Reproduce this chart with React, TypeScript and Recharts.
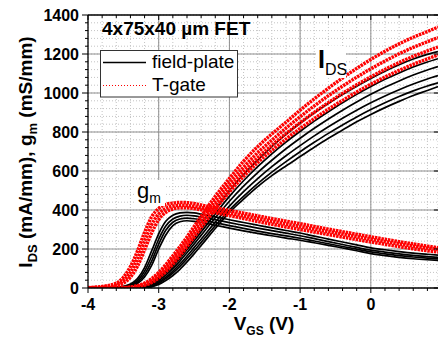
import { CartesianGrid, Line, LineChart, ReferenceLine, XAxis, YAxis } from "recharts";

const FONT = '"Liberation Sans", Arial, Helvetica, sans-serif';

// gate voltage grid (V)
const vgs = [
  -4, -3.8, -3.6, -3.5, -3.4, -3.3, -3.2, -3.1, -3.0, -2.9, -2.8, -2.7, -2.6, -2.5, -2.4, -2.2,
  -2.0, -1.8, -1.6, -1.4, -1.2, -1.0, -0.8, -0.6, -0.4, -0.2, 0, 0.2, 0.4, 0.6, 0.8, 0.95,
];

// field-plate devices, I_DS (mA/mm)
const fpIds1 = [0, 0, 0, 0, 0, 3, 10, 28, 55, 85, 120, 162, 208, 255, 302, 400, 500, 582, 656, 725, 788, 845, 898, 946, 992, 1035, 1075, 1112, 1145, 1174, 1198, 1212];
const fpIds2 = [0, 0, 0, 0, 0, 2, 8, 22, 46, 76, 111, 152, 196, 241, 287, 380, 470, 550, 622, 688, 748, 803, 856, 904, 950, 993, 1033, 1070, 1103, 1133, 1159, 1176];
const fpIds3 = [0, 0, 0, 0, 0, 2, 6, 18, 38, 66, 99, 138, 181, 225, 270, 360, 445, 522, 592, 655, 714, 768, 819, 867, 912, 954, 993, 1029, 1062, 1092, 1118, 1135];
const fpIds4 = [0, 0, 0, 0, 0, 1, 4, 13, 31, 56, 87, 123, 164, 207, 250, 338, 420, 494, 561, 622, 678, 730, 780, 827, 871, 912, 950, 985, 1017, 1046, 1072, 1089];
const fpIds5 = [0, 0, 0, 0, 0, 0, 3, 10, 25, 48, 77, 111, 150, 191, 234, 320, 400, 470, 535, 594, 648, 699, 747, 793, 836, 877, 915, 950, 982, 1011, 1036, 1052];
const fpIds6 = [0, 0, 0, 0, 0, 0, 1, 6, 18, 38, 64, 96, 134, 175, 218, 305, 388, 456, 520, 576, 626, 674, 722, 768, 810, 852, 890, 925, 957, 987, 1013, 1033];

// T-gate devices, I_DS (mA/mm)
const tgIds1 = [0, 0, 0, 2, 5, 12, 25, 48, 80, 120, 165, 212, 262, 315, 368, 470, 562, 650, 725, 790, 850, 912, 970, 1025, 1077, 1126, 1172, 1214, 1252, 1286, 1315, 1338];
const tgIds2 = [0, 0, 0, 1, 4, 10, 21, 41, 70, 107, 150, 196, 245, 296, 348, 448, 538, 620, 694, 758, 820, 878, 934, 986, 1035, 1081, 1124, 1164, 1201, 1234, 1263, 1284];
const tgIds3 = [0, 0, 0, 0, 3, 8, 17, 34, 60, 95, 136, 180, 228, 278, 328, 426, 515, 596, 668, 732, 792, 848, 901, 951, 998, 1042, 1083, 1121, 1156, 1188, 1216, 1236];
const tgIds4 = [0, 0, 0, 0, 2, 6, 14, 28, 52, 84, 122, 165, 212, 260, 309, 405, 492, 572, 643, 706, 764, 818, 869, 917, 962, 1005, 1045, 1082, 1116, 1147, 1175, 1195];

// field-plate devices, g_m (mS/mm)
const fpGm1 = [0, 1, 4, 9, 20, 48, 105, 190, 278, 342, 373, 385, 388, 385, 379, 365, 350, 336, 322, 308, 295, 282, 266, 251, 236, 221, 206, 196, 187, 179, 173, 169];
const fpGm2 = [0, 1, 3, 7, 16, 38, 86, 162, 250, 318, 354, 369, 373, 370, 364, 350, 335, 321, 307, 294, 281, 268, 253, 238, 223, 208, 194, 184, 175, 167, 161, 157];
const fpGm3 = [0, 1, 2, 5, 12, 30, 70, 138, 225, 296, 337, 354, 358, 355, 349, 335, 320, 306, 292, 279, 267, 255, 241, 227, 213, 199, 185, 175, 166, 159, 153, 149];
const fpGm4 = [0, 0, 2, 4, 9, 23, 56, 116, 200, 272, 320, 340, 345, 342, 336, 322, 307, 293, 280, 268, 256, 245, 232, 219, 205, 191, 176, 166, 157, 150, 145, 142];

// T-gate devices, g_m (mS/mm)
const tgGm1 = [2, 8, 25, 55, 110, 190, 285, 365, 408, 428, 436, 439, 438, 434, 426, 412, 398, 384, 370, 356, 343, 330, 316, 302, 289, 276, 263, 250, 238, 226, 215, 207];
const tgGm2 = [1, 5, 16, 38, 80, 150, 240, 325, 380, 408, 420, 424, 423, 418, 412, 398, 384, 370, 356, 342, 328, 315, 302, 289, 276, 263, 250, 238, 226, 215, 205, 198];
const tgGm3 = [1, 3, 10, 25, 55, 112, 195, 282, 350, 388, 405, 411, 411, 407, 401, 386, 371, 356, 341, 327, 313, 300, 287, 274, 261, 248, 236, 224, 212, 201, 191, 184];

const xMajor = [-4, -3, -2, -1, 0];
const yMajor = [0, 200, 400, 600, 800, 1000, 1200, 1400];

const fieldPlate = { fpIds1, fpIds2, fpIds3, fpIds4, fpIds5, fpIds6, fpGm1, fpGm2, fpGm3, fpGm4 };
const tGate = { tgIds1, tgIds2, tgIds3, tgIds4, tgGm1, tgGm2, tgGm3 };

const W = 438;
const H = 337;
const TOP = 15;
const LEFT = 88;
const BOTTOM = 288;

const xMinor: number[] = [];
for (let i = 0; i <= 24; i++) xMinor.push(Math.round((-4 + i * 0.2) * 10) / 10);
const yMinor: number[] = [];
for (let v = 0; v <= 1400; v += 40) yMinor.push(v);

const rows = vgs.map((v, i) => {
  const row: Record<string, number> = { v };
  for (const [k, arr] of Object.entries(fieldPlate)) row[k] = arr[i];
  for (const [k, arr] of Object.entries(tGate)) row[k] = arr[i];
  return row;
});

function XTick(props: any) {
  const { x, payload } = props;
  const v = payload.value as number;
  const major = xMajor.includes(v);
  const len = major ? 5 : 3;
  return (
    <g>
      <line x1={x} x2={x} y1={BOTTOM} y2={BOTTOM + len} stroke="#000" />
      <line x1={x} x2={x} y1={TOP} y2={TOP + len} stroke="#000" />
      {major && (
        <text x={x} y={BOTTOM + 22} textAnchor="middle" fontFamily={FONT} fontWeight="bold" fontSize={16} fill="#000">
          {String(v)}
        </text>
      )}
    </g>
  );
}

function YTick(props: any) {
  const { y, payload } = props;
  const v = payload.value as number;
  const major = yMajor.includes(v);
  return (
    <g>
      <line x1={LEFT - (major ? 6 : 3)} x2={LEFT} y1={y} y2={y} stroke="#000" />
      {major && <line x1={W - 4} x2={W} y1={y} y2={y} stroke="#000" />}
      {major && (
        <text x={LEFT - 9} y={y} dy="0.36em" textAnchor="end" fontFamily={FONT} fontWeight="bold" fontSize={16} fill="#000">
          {v}
        </text>
      )}
    </g>
  );
}

function Overlay() {
  return (
    <svg width={W} height={H} style={{ position: "absolute", left: 0, top: 0, pointerEvents: "none" }}>
      <text x={102} y={35} fontFamily={FONT} fontWeight="bold" fontSize={19} fill="#000">
        4x75x40 µm FET
      </text>
      <rect x={100.5} y={50.5} width={137} height={46.5} fill="#fff" stroke="#333" />
      <line x1={103} x2={146} y1={62.5} y2={62.5} stroke="#000" strokeWidth={1.3} />
      <text x={152} y={68} fontFamily={FONT} fontSize={19} fill="#000">
        field-plate
      </text>
      <line x1={103} x2={146} y1={85.5} y2={85.5} stroke="#ff0000" strokeWidth={1.2} strokeDasharray="1 2" />
      <text x={152} y={91} fontFamily={FONT} fontSize={19} fill="#000">
        T-gate
      </text>

      <rect x={316} y={46} width={30} height={32} fill="#fff" />
      <text x={318} y={68} fontFamily={FONT} fill="#000">
        <tspan fontSize={25} fontWeight="bold">I</tspan>
        <tspan fontSize={16} dy={7}>DS</tspan>
      </text>

      <rect x={135} y={180} width={30} height={26} fill="#fff" />
      <text x={137} y={198} fontFamily={FONT} fill="#000">
        <tspan fontSize={22}>g</tspan>
        <tspan fontSize={14} dy={5}>m</tspan>
      </text>

      <text x={264} y={330} textAnchor="middle" fontFamily={FONT} fontWeight="bold" fill="#000">
        <tspan fontSize={19}>V</tspan>
        <tspan fontSize={12} dy={5}>GS</tspan>
        <tspan fontSize={19} dy={-5}> (V)</tspan>
      </text>

      <text transform={`translate(32,152) rotate(-90)`} textAnchor="middle" fontFamily={FONT} fontWeight="bold" fill="#000">
        <tspan fontSize={19}>I</tspan>
        <tspan fontSize={13} dy={5}>DS</tspan>
        <tspan fontSize={19} dy={-5}> (mA/mm), g</tspan>
        <tspan fontSize={13} dy={5}>m</tspan>
        <tspan fontSize={19} dy={-5}> (mS/mm)</tspan>
      </text>
    </svg>
  );
}

export default function App() {
  return (
    <div style={{ position: "absolute", left: 0, top: 0, width: W, height: H, background: "#fff", overflow: "hidden" }}>
      <LineChart width={W} height={H} data={rows} margin={{ top: TOP, right: 0, bottom: 0, left: 0 }}>
        <CartesianGrid stroke="#c4c4c4" strokeDasharray="1 2" />
        {xMajor.slice(1).map((v) => (
          <ReferenceLine key={`x${v}`} x={v} stroke="#8f8f8f" />
        ))}
        {yMajor.slice(1, -1).map((v) => (
          <ReferenceLine key={`y${v}`} y={v} stroke="#8f8f8f" />
        ))}
        <ReferenceLine y={1400} stroke="#000" strokeWidth={1.3} />
        <XAxis
          dataKey="v"
          type="number"
          domain={[-4, 0.95]}
          allowDataOverflow
          ticks={xMinor}
          tick={<XTick />}
          tickLine={false}
          tickSize={0}
          height={H - BOTTOM}
          stroke="#000"
          strokeWidth={1.3}
          interval={0}
        />
        <YAxis
          type="number"
          domain={[0, 1400]}
          allowDataOverflow
          ticks={yMinor}
          tick={<YTick />}
          tickLine={false}
          tickSize={0}
          width={LEFT}
          stroke="#000"
          strokeWidth={1.3}
          interval={0}
        />
        {Object.keys(fieldPlate).map((k) => (
          <Line key={k} dataKey={k} type="monotone" stroke="#000" strokeWidth={1.7} dot={false} isAnimationActive={false} />
        ))}
        {Object.keys(tGate).map((k) => (
          <Line
            key={k}
            dataKey={k}
            type="monotone"
            stroke="#ff0000"
            strokeWidth={3.4}
            strokeDasharray="2.5 0.8"
            dot={false}
            isAnimationActive={false}
          />
        ))}
      </LineChart>
      <Overlay />
    </div>
  );
}
